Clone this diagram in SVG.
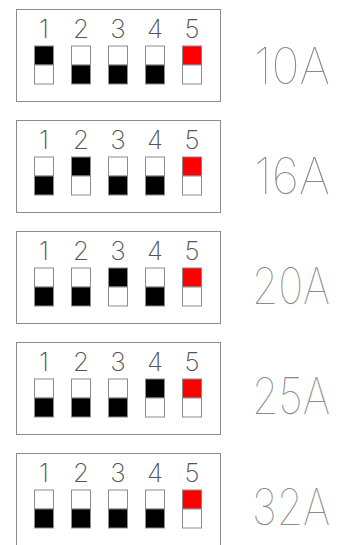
<svg xmlns="http://www.w3.org/2000/svg" width="342" height="545" viewBox="0 0 342 545">
<style>
.box{fill:#fff;stroke:#8c8c8c;stroke-width:1}
.sw{stroke:#8c8c8c;stroke-width:1}
.off{fill:#fff}
.on{fill:#000}
.red{fill:#ff0000}
.num{font-family:Inter,"DejaVu Sans",sans-serif;font-weight:200;font-size:26px;fill:#555;text-anchor:middle}
.amp{font-family:Inter,"DejaVu Sans",sans-serif;font-weight:100;font-size:46px;fill:#8a8a8a}
</style>
<defs>
<g id="up">
<rect class="sw on" x="0" y="0" width="19" height="19"/>
<rect class="sw off" x="0" y="19" width="19" height="19"/>
</g>
<g id="down">
<rect class="sw off" x="0" y="0" width="19" height="19"/>
<rect class="sw on" x="0" y="19" width="19" height="19"/>
</g>
<g id="five">
<rect class="sw red" x="0" y="0" width="19" height="19"/>
<rect class="sw off" x="0" y="19" width="19" height="19"/>
</g>
<g id="digits">
<text class="num" x="44" y="0">1</text>
<text class="num" x="81" y="0">2</text>
<text class="num" x="118" y="0">3</text>
<text class="num" x="155" y="0">4</text>
<text class="num" x="192" y="0">5</text>
</g>
</defs>
<g id="setting-10A">
<rect class="box" x="16.5" y="9.5" width="204" height="92"/>
<use href="#digits" y="37.5"/>
<use href="#up" x="34.5" y="46"/>
<use href="#down" x="71.5" y="46"/>
<use href="#down" x="108.5" y="46"/>
<use href="#down" x="145.5" y="46"/>
<use href="#five" x="182.5" y="46"/>
<text class="amp" transform="translate(254 84) scale(1 1.1)" x="0" y="0" textLength="76" lengthAdjust="spacingAndGlyphs">10A</text>
</g>
<g id="setting-16A">
<rect class="box" x="16.5" y="120.5" width="204" height="92"/>
<use href="#digits" y="148.5"/>
<use href="#down" x="34.5" y="157"/>
<use href="#up" x="71.5" y="157"/>
<use href="#down" x="108.5" y="157"/>
<use href="#down" x="145.5" y="157"/>
<use href="#five" x="182.5" y="157"/>
<text class="amp" transform="translate(254 194) scale(1 1.1)" x="0" y="0" textLength="76" lengthAdjust="spacingAndGlyphs">16A</text>
</g>
<g id="setting-20A">
<rect class="box" x="16.5" y="231.5" width="204" height="92"/>
<use href="#digits" y="259.5"/>
<use href="#down" x="34.5" y="268"/>
<use href="#down" x="71.5" y="268"/>
<use href="#up" x="108.5" y="268"/>
<use href="#down" x="145.5" y="268"/>
<use href="#five" x="182.5" y="268"/>
<text class="amp" transform="translate(252 304) scale(1 1.1)" x="0" y="0" textLength="78" lengthAdjust="spacingAndGlyphs">20A</text>
</g>
<g id="setting-25A">
<rect class="box" x="16.5" y="342.5" width="204" height="92"/>
<use href="#digits" y="370.5"/>
<use href="#down" x="34.5" y="379"/>
<use href="#down" x="71.5" y="379"/>
<use href="#down" x="108.5" y="379"/>
<use href="#up" x="145.5" y="379"/>
<use href="#five" x="182.5" y="379"/>
<text class="amp" transform="translate(252 414) scale(1 1.1)" x="0" y="0" textLength="78" lengthAdjust="spacingAndGlyphs">25A</text>
</g>
<g id="setting-32A">
<rect class="box" x="16.5" y="453.5" width="204" height="92"/>
<use href="#digits" y="481.5"/>
<use href="#down" x="34.5" y="490"/>
<use href="#down" x="71.5" y="490"/>
<use href="#down" x="108.5" y="490"/>
<use href="#down" x="145.5" y="490"/>
<use href="#five" x="182.5" y="490"/>
<text class="amp" transform="translate(252 525) scale(1 1.1)" x="0" y="0" textLength="78" lengthAdjust="spacingAndGlyphs">32A</text>
</g>
<g id="connectors"/>
</svg>
